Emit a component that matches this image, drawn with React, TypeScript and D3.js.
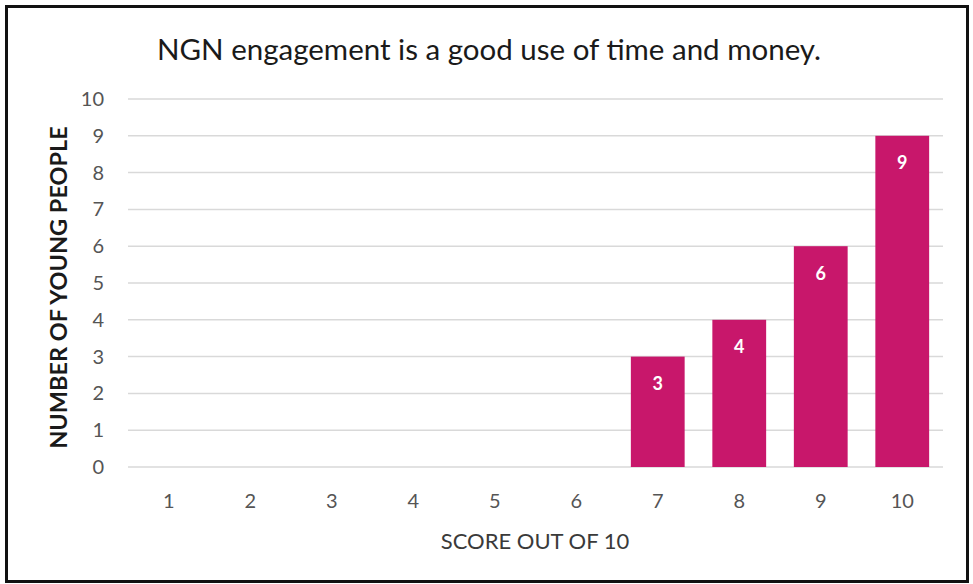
import { useEffect, useRef } from 'react';
import * as d3 from 'd3';

const scores = ['1', '2', '3', '4', '5', '6', '7', '8', '9', '10'];
const counts = [0, 0, 0, 0, 0, 0, 3, 4, 6, 9];
const yTicks = [0, 1, 2, 3, 4, 5, 6, 7, 8, 9, 10];

const title = 'NGN engagement is a good use of time and money.';
const xTitle = 'SCORE OUT OF 10';
const yTitle = 'NUMBER OF YOUNG PEOPLE';

export default function App() {
  const svgRef = useRef<SVGSVGElement>(null);

  useEffect(() => {
    if (!svgRef.current) return;
    const svg = d3.select(svgRef.current);
    svg.selectAll('*').remove();

    const font = 'Lato, "Open Sans", sans-serif';
    const barColor = '#c8176b';

    // Frame
    svg.append('rect')
      .attr('x', 6.5)
      .attr('y', 6.5)
      .attr('width', 961)
      .attr('height', 575)
      .attr('fill', '#fff')
      .attr('stroke', '#111')
      .attr('stroke-width', 3);

    const x = d3.scaleBand<string>()
      .domain(scores)
      .range([128, 943])
      .paddingInner(0.34)
      .paddingOuter(0.17);

    const y = d3.scaleLinear()
      .domain([0, 10])
      .range([467, 99]);

    // Gridlines
    svg.append('g')
      .selectAll('line')
      .data(yTicks)
      .join('line')
      .attr('x1', 128)
      .attr('x2', 943)
      .attr('y1', d => y(d))
      .attr('y2', d => y(d))
      .attr('stroke', '#d9d9d9')
      .attr('stroke-width', 1.5);

    // Y tick labels
    svg.append('g')
      .selectAll('text')
      .data(yTicks)
      .join('text')
      .attr('x', 104)
      .attr('y', d => y(d))
      .attr('dy', '0.35em')
      .attr('text-anchor', 'end')
      .attr('fill', '#555')
      .attr('font-family', font)
      .attr('font-size', '20px')
      .text(d => d);

    // Bars
    const bars = counts.map((v, i) => ({ score: scores[i], value: v })).filter(d => d.value > 0);

    svg.append('g')
      .selectAll('rect')
      .data(bars)
      .join('rect')
      .attr('x', d => x(d.score)!)
      .attr('y', d => y(d.value))
      .attr('width', x.bandwidth())
      .attr('height', d => y(0) - y(d.value))
      .attr('fill', barColor);

    // Data labels
    svg.append('g')
      .selectAll('text')
      .data(bars)
      .join('text')
      .attr('x', d => x(d.score)! + x.bandwidth() / 2)
      .attr('y', d => y(d.value) + 27)
      .attr('dy', '0.35em')
      .attr('text-anchor', 'middle')
      .attr('fill', '#fff')
      .attr('font-family', font)
      .attr('font-weight', 'bold')
      .attr('font-size', '18px')
      .text(d => d.value);

    // X tick labels
    svg.append('g')
      .selectAll('text')
      .data(scores)
      .join('text')
      .attr('x', d => x(d)! + x.bandwidth() / 2)
      .attr('y', 501)
      .attr('dy', '0.35em')
      .attr('text-anchor', 'middle')
      .attr('fill', '#555')
      .attr('font-family', font)
      .attr('font-size', '20px')
      .text(d => d);

    // Axis titles
    svg.append('text')
      .attr('x', 535)
      .attr('y', 541)
      .attr('dy', '0.35em')
      .attr('text-anchor', 'middle')
      .attr('fill', '#3a3a3a')
      .attr('font-family', font)
      .attr('font-size', '22px')
      .text(xTitle);

    svg.append('text')
      .attr('transform', `translate(59, ${(128 + 447) / 2}) rotate(-90)`)
      .attr('dy', '0.35em')
      .attr('text-anchor', 'middle')
      .attr('fill', '#1a1a1a')
      .attr('font-family', font)
      .attr('font-weight', 'bold')
      .attr('font-size', '23.5px')
      .text(yTitle);

    // Title
    svg.append('text')
      .attr('x', 489)
      .attr('y', 50)
      .attr('dy', '0.35em')
      .attr('text-anchor', 'middle')
      .attr('fill', '#1a1a1a')
      .attr('font-family', font)
      .attr('font-size', '29.5px')
      .text(title);
  }, []);

  return (
    <svg
      ref={svgRef}
      width={973}
      height={584}
      style={{ position: 'absolute', left: 0, top: 0, display: 'block' }}
    />
  );
}
